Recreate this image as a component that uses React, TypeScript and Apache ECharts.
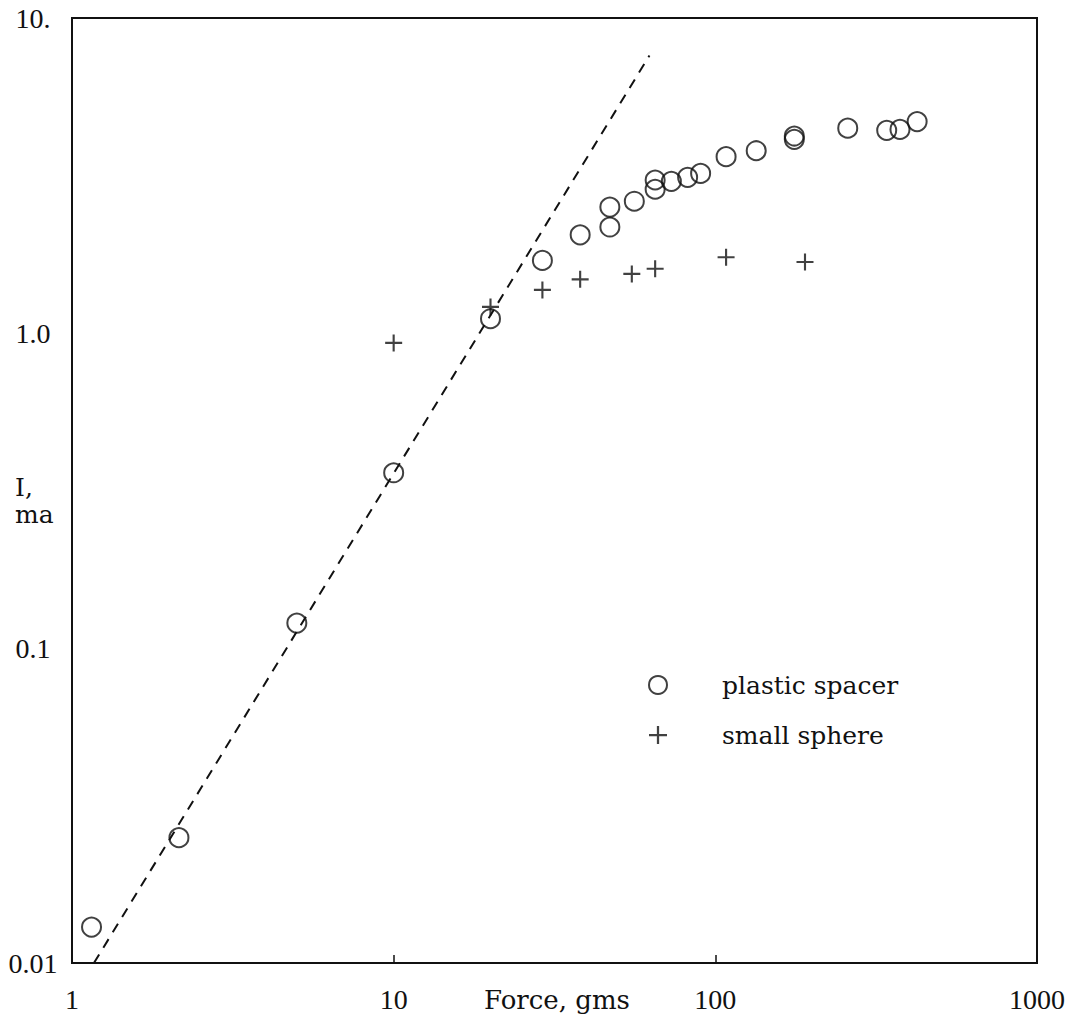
import React, { useEffect, useRef } from "react";
import * as echarts from "echarts";

const spacerForce = [1.15, 2.15, 5.0, 10, 20, 29, 38, 47, 47, 56, 65, 65, 73, 82, 90, 108, 134, 176, 176, 258, 341, 375, 424];
const spacerCurrent = [0.013, 0.025, 0.12, 0.36, 1.11, 1.7, 2.05, 2.51, 2.17, 2.62, 3.06, 2.86, 3.03, 3.12, 3.21, 3.63, 3.79, 4.12, 4.22, 4.47, 4.4, 4.43, 4.69];
const sphereForce = [10, 20, 29, 38, 55, 65, 108, 190];
const sphereCurrent = [0.93, 1.21, 1.37, 1.48, 1.54, 1.6, 1.74, 1.68];
const fitForce = [1.17, 62.4];
const fitCurrent = [0.01, 7.6];
const yTickLabels: Record<string, string> = { "10": "10.", "1": "1.0", "0.1": "0.1", "0.01": "0.01" };
const seriesNames = ["plastic spacer", "small sphere"];
const xTitle = "Force, gms";
const yTitle = "I,\nma";

const PLUS = "path://M7,0h2v7h7v2h-7v7h-2v-7h-7v-2h7z";
const INK = "#111";
const FONT = "DejaVu Serif";
const NUMFONT = "Liberation Serif";

export default function App() {
  const ref = useRef<HTMLDivElement>(null);
  useEffect(() => {
    if (!ref.current) return;
    const chart = echarts.init(ref.current, undefined, { renderer: "svg" });
    const zip = (a: number[], b: number[]) => a.map((v, i) => [v, b[i]]);
    chart.setOption({
      animation: false,
      backgroundColor: "#fff",
      grid: { left: 72, right: 52, top: 18, bottom: 66, show: true, borderColor: INK, borderWidth: 2, backgroundColor: "transparent" },
      xAxis: {
        type: "log",
        logBase: 10,
        min: 1,
        max: 1000,
        axisLine: { show: false },
        axisTick: { show: true, inside: true, length: 8, lineStyle: { color: INK, width: 1.5 } },
        splitLine: { show: false },
        minorTick: { show: false },
        axisLabel: { margin: 22, fontFamily: NUMFONT, fontSize: 28, color: INK, formatter: (v: number) => String(Math.round(v)) },
      },
      yAxis: {
        type: "log",
        logBase: 10,
        min: 0.01,
        max: 10,
        axisLine: { show: false },
        axisTick: { show: false },
        splitLine: { show: false },
        axisLabel: {
          margin: 39,
          align: "center",
          fontFamily: NUMFONT,
          fontSize: 28,
          color: INK,
          formatter: (v: number) => {
            const k = String(Number(v.toPrecision(3)));
            return yTickLabels[k] ?? k;
          },
        },
      },
      legend: {
        orient: "vertical",
        left: 643,
        top: 666,
        itemWidth: 18,
        itemHeight: 18,
        itemGap: 22,
        textStyle: { fontFamily: FONT, fontSize: 25, color: INK, padding: [0, 0, 0, 50], lineHeight: 28 },
        data: [
          { name: seriesNames[0], icon: "circle", itemStyle: { color: "rgba(0,0,0,0)", borderColor: INK, borderWidth: 2 } },
          { name: seriesNames[1], icon: PLUS, itemStyle: { color: INK, borderWidth: 0 } },
        ],
      },
      graphic: [
        {
          type: "text",
          left: 15,
          top: 474,
          style: { text: yTitle, fontFamily: FONT, fontSize: 25, fill: INK, lineHeight: 27, align: "left" },
        },
        {
          type: "text",
          x: 557,
          y: 1000,
          style: { text: xTitle, fontFamily: FONT, fontSize: 26, fill: INK, align: "center", verticalAlign: "middle" },
        },
      ],
      series: [
        {
          type: "line",
          data: zip(fitForce, fitCurrent),
          showSymbol: false,
          symbol: "none",
          lineStyle: { color: INK, width: 2, type: [10, 8] },
          silent: true,
          z: 1,
        },
        {
          name: seriesNames[0],
          type: "scatter",
          data: zip(spacerForce, spacerCurrent),
          symbol: "circle",
          symbolSize: 19,
          itemStyle: { color: "rgba(0,0,0,0)", borderColor: INK, borderWidth: 2 },
          z: 3,
        },
        {
          name: seriesNames[1],
          type: "scatter",
          data: zip(sphereForce, sphereCurrent),
          symbol: PLUS,
          symbolSize: 17,
          itemStyle: { color: INK, borderWidth: 0 },
          z: 3,
        },
      ],
    });
    return () => chart.dispose();
  }, []);
  return <div ref={ref} style={{ position: "fixed", left: 0, top: 0, width: 1089, height: 1029, background: "#fff" }} />;
}
